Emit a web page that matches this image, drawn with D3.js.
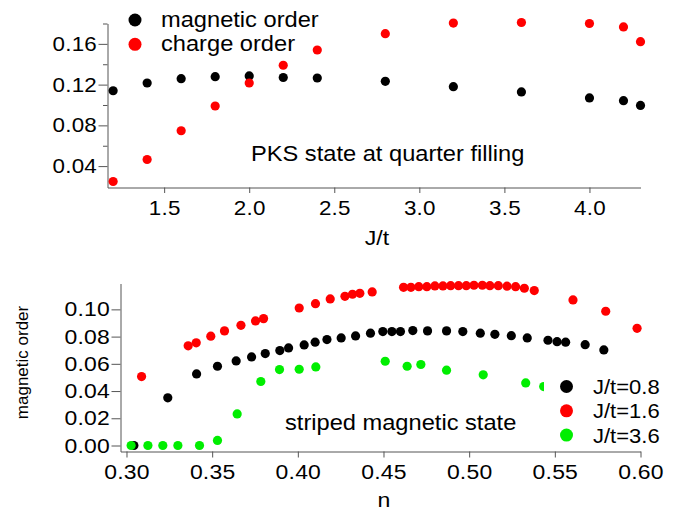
<!DOCTYPE html>
<html>
<head>
<meta charset="utf-8">
<script src="https://cdn.jsdelivr.net/npm/d3@7"></script>
<style>
  body { margin: 0; background: #fff; }
  svg { display: block; font-family: "Liberation Sans", Arial, Helvetica, sans-serif; }
</style>
</head>
<body>
<div id="chart"></div>
<script>
/*************************/
/*    Data (read off)    */
/*************************/
// Upper panel: PKS state at quarter filling
const topJ = [1.2, 1.4, 1.6, 1.8, 2.0, 2.2, 2.4, 2.8, 3.2, 3.6, 4.0, 4.2, 4.3];
const topMagnetic = [0.114, 0.1216, 0.1258, 0.1278, 0.1285, 0.127, 0.1265, 0.1232, 0.118, 0.1128, 0.1069, 0.1042, 0.0996];
const topCharge = [0.0249, 0.0465, 0.0747, 0.099, 0.1216, 0.139, 0.154, 0.170, 0.1804, 0.181, 0.180, 0.1766, 0.1622];
const topNames = ["magnetic order", "charge order"];

// Lower panel: striped magnetic state
const n08 = [0.3043, 0.3241, 0.3409, 0.3531, 0.364, 0.373, 0.381, 0.3895, 0.3946, 0.4037, 0.4101, 0.417, 0.4253, 0.4337, 0.4424, 0.4496, 0.4549, 0.4599, 0.4671, 0.4757, 0.4868, 0.4963, 0.5065, 0.515, 0.5246, 0.5339, 0.546, 0.5513, 0.5563, 0.5677, 0.5786];
const m08 = [0, 0.035, 0.0526, 0.0582, 0.0621, 0.0651, 0.0675, 0.0697, 0.0717, 0.0739, 0.0759, 0.0778, 0.079, 0.0805, 0.0825, 0.0837, 0.0837, 0.0837, 0.0844, 0.0842, 0.0842, 0.0837, 0.0825, 0.0817, 0.0807, 0.079, 0.0773, 0.0763, 0.0759, 0.0741, 0.0702];
const n16 = [0.3088, 0.336, 0.3407, 0.3492, 0.3572, 0.3668, 0.3753, 0.38, 0.4008, 0.4103, 0.4189, 0.4275, 0.4319, 0.4362, 0.4434, 0.4617, 0.466, 0.4706, 0.4753, 0.48, 0.4847, 0.4892, 0.4938, 0.4983, 0.5028, 0.5077, 0.5121, 0.517, 0.5221, 0.5271, 0.5322, 0.538, 0.5606, 0.5797, 0.598];
const m16 = [0.0506, 0.0732, 0.0754, 0.0803, 0.0842, 0.0883, 0.0915, 0.0932, 0.101, 0.1042, 0.1077, 0.1096, 0.1111, 0.1118, 0.1128, 0.1162, 0.1162, 0.1167, 0.1167, 0.1172, 0.1172, 0.1174, 0.1174, 0.1174, 0.1177, 0.1177, 0.1174, 0.1174, 0.117, 0.1167, 0.1155, 0.1138, 0.1069, 0.0986, 0.0861];
const n36 = [0.3027, 0.3125, 0.3212, 0.330, 0.3426, 0.3531, 0.3646, 0.3784, 0.3893, 0.4008, 0.4105, 0.451, 0.4638, 0.4718, 0.4868, 0.5082, 0.533, 0.5435];
const m36 = [0, 0, 0, 0, 0, 0.0037, 0.0232, 0.047, 0.0558, 0.056, 0.0577, 0.0619, 0.0582, 0.0595, 0.0553, 0.0519, 0.046, 0.0433];
const bottomNames = ["J/t=0.8", "J/t=1.6", "J/t=3.6"];

// Ticks
const topXTicks = [1.5, 2.0, 2.5, 3.0, 3.5, 4.0];
const topYTicks = [0.04, 0.08, 0.12, 0.16];
const topYMinor = [0.06, 0.10, 0.14, 0.18];
const bottomXTicks = [0.30, 0.35, 0.40, 0.45, 0.50, 0.55, 0.60];
const bottomYTicks = [0.00, 0.02, 0.04, 0.06, 0.08, 0.10];

const colors = ["#000000", "#ff0000", "#00ee00"];

const width = 681;
const height = 511;
const dotR = 4.6;
const legendR = 6.5;
const axisColor = "#555";

// the original figure is slightly wider than tall: stretch the text to match
const stretch = (sel, k = 1.1) => sel.each(function () {
  const x = +this.getAttribute("x") || 0;
  d3.select(this).attr("transform", `translate(${x},0) scale(${k},1) translate(${-x},0)`);
});

const svg = d3.select("#chart")
  .append("svg")
    .attr("width", width)
    .attr("height", height);

svg.append("rect")
    .attr("width", width)
    .attr("height", height)
    .attr("fill", "#fff");

const styleAxis = (g, fontSize) => {
  g.attr("font-family", null).attr("font-size", fontSize);
  g.select(".domain").attr("stroke", axisColor);
  g.selectAll(".tick line").attr("stroke", axisColor);
  g.selectAll(".tick text").attr("fill", "#000").attr("letter-spacing", "0.2px");
  stretch(g.selectAll(".tick text"), 1.12);
};


/*****************************/
/*    Upper panel (PKS)      */
/*****************************/
const xTop = d3.scaleLinear()
  .domain([1.167, 4.3])
  .range([107.5, 640.5]);
const yTop = d3.scaleLinear()
  .domain([0.019, 0.18])
  .range([187.5, 23.5]);

svg.append("g")
    .attr("transform", `translate(0, ${yTop.range()[0]})`)
    .call(d3.axisBottom(xTop).tickValues(topXTicks).tickFormat(d3.format(".1f"))
      .tickSize(5.5).tickPadding(8).tickSizeOuter(0))
    .call(g => styleAxis(g, 20));

svg.append("g")
    .attr("transform", `translate(${xTop.range()[0]}, 0)`)
    .call(d3.axisLeft(yTop).tickValues(topYTicks).tickFormat(d3.format(".2f"))
      .tickSize(9).tickPadding(1.5).tickSizeOuter(0))
    .call(g => styleAxis(g, 20));

svg.append("g")
    .attr("transform", `translate(${xTop.range()[0]}, 0)`)
    .call(d3.axisLeft(yTop).tickValues(topYMinor).tickFormat("").tickSize(4.5).tickSizeOuter(0))
    .call(g => g.select(".domain").remove())
    .call(g => g.selectAll(".tick line").attr("stroke", axisColor));

const topSeries = [topMagnetic, topCharge];
topSeries.forEach((vals, i) => {
  svg.append("g")
    .selectAll("circle")
    .data(topJ.map((j, k) => [j, vals[k]]))
    .join("circle")
      .attr("cx", d => xTop(d[0]))
      .attr("cy", d => yTop(d[1]))
      .attr("r", dotR)
      .attr("fill", colors[i]);
});

// Legend
topNames.forEach((name, i) => {
  svg.append("circle")
      .attr("cx", 135)
      .attr("cy", 20 + i * 24.3)
      .attr("r", legendR)
      .attr("fill", colors[i]);
  svg.append("text")
      .attr("x", 161)
      .attr("y", 27 + i * 24.3)
      .attr("font-size", 21.5)
      .text(name)
      .call(stretch);
});

svg.append("text")
    .attr("x", 251)
    .attr("y", 161.5)
    .attr("font-size", 21.5)
    .text("PKS state at quarter filling")
    .call(stretch);

svg.append("text")
    .attr("x", 377)
    .attr("y", 245)
    .attr("text-anchor", "middle")
    .attr("font-size", 21)
    .text("J/t")
    .call(stretch);


/*****************************/
/*    Lower panel (stripes)  */
/*****************************/
const xBot = d3.scaleLinear()
  .domain([0.2965, 0.6])
  .range([120.5, 640.5]);
const yBot = d3.scaleLinear()
  .domain([-0.0044, 0.119])
  .range([451.5, 283.5]);

svg.append("g")
    .attr("transform", `translate(0, ${yBot.range()[0]})`)
    .call(d3.axisBottom(xBot).tickValues(bottomXTicks).tickFormat(d3.format(".2f"))
      .tickSize(6).tickPadding(7).tickSizeOuter(0))
    .call(g => styleAxis(g, 20.5));

svg.append("g")
    .attr("transform", `translate(${xBot.range()[0]}, 0)`)
    .call(d3.axisLeft(yBot).tickValues(bottomYTicks).tickFormat(d3.format(".2f"))
      .tickSize(9).tickPadding(1.5).tickSizeOuter(0))
    .call(g => styleAxis(g, 20.5));

const bottomSeries = [[n08, m08], [n16, m16], [n36, m36]];
bottomSeries.forEach(([ns, ms], i) => {
  svg.append("g")
    .selectAll("circle")
    .data(ns.map((n, k) => [n, ms[k]]))
    .join("circle")
      .attr("cx", d => xBot(d[0]))
      .attr("cy", d => yBot(d[1]))
      .attr("r", dotR)
      .attr("fill", colors[i]);
});

svg.append("text")
    .attr("x", 285)
    .attr("y", 430.5)
    .attr("font-size", 21.5)
    .text("striped magnetic state")
    .call(stretch);

// Legend (white box hides the last green point partly)
svg.append("rect")
    .attr("x", 544)
    .attr("y", 372)
    .attr("width", 110)
    .attr("height", 78)
    .attr("fill", "#fff");

bottomNames.forEach((name, i) => {
  svg.append("circle")
      .attr("cx", 566.5)
      .attr("cy", 386.5 + i * 24.3)
      .attr("r", legendR)
      .attr("fill", colors[i]);
  svg.append("text")
      .attr("x", 593)
      .attr("y", 394 + i * 24.3)
      .attr("font-size", 20)
      .text(name)
      .call(stretch);
});

svg.append("text")
    .attr("x", 384)
    .attr("y", 507.5)
    .attr("text-anchor", "middle")
    .attr("font-size", 21)
    .text("n")
    .call(stretch);

svg.append("text")
    .attr("transform", "translate(28, 362.5) rotate(-90)")
    .attr("text-anchor", "middle")
    .attr("font-size", 17)
    .text("magnetic order");
</script>
</body>
</html>
